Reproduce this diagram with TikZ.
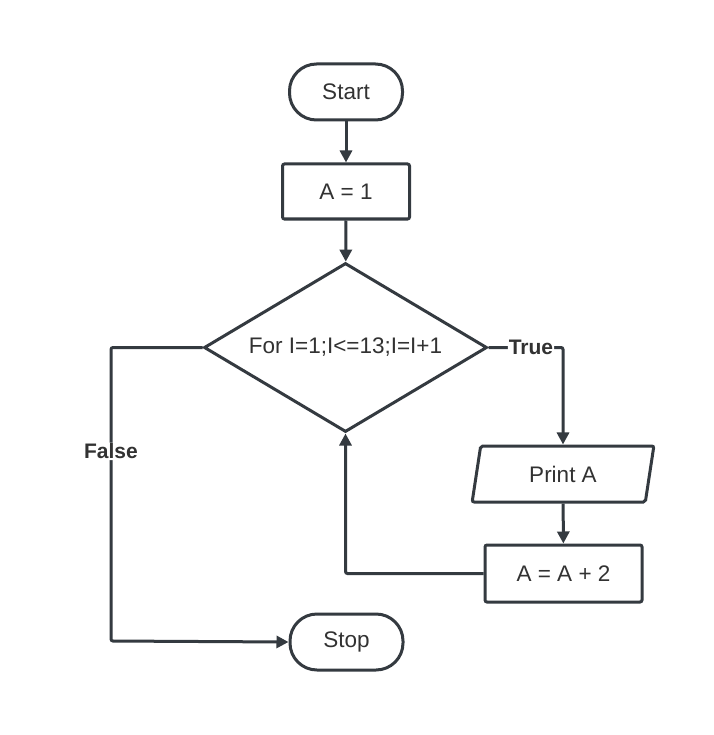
\documentclass[tikz,border=0pt]{standalone}
\usepackage{fontspec}
\setmainfont{Liberation Sans}
\usetikzlibrary{shapes.geometric,arrows.meta}
\definecolor{ink}{RGB}{52,58,64}
\definecolor{txt}{RGB}{50,50,50}
\begin{document}
\begin{tikzpicture}[x=1pt,y=-1pt,
  line width=3pt,
  every node/.style={text=txt,font=\fontsize{22.5}{27}\selectfont},
  terminal/.style={draw=ink,rectangle,rounded corners=27pt,minimum width=113pt,minimum height=56pt,inner sep=0pt},
  process/.style={draw=ink,rectangle,rounded corners=2pt,minimum width=127pt,minimum height=55pt,inner sep=0pt},
  decision/.style={draw=ink,diamond,shape aspect=1.675,minimum width=283pt,minimum height=169pt,inner sep=0pt},
  io/.style={draw=ink,trapezium,trapezium left angle=78,trapezium right angle=102,trapezium stretches=true,minimum width=182pt,minimum height=56pt,inner sep=0pt,rounded corners=2pt},
  flow/.style={draw=ink,rounded corners=2pt,-{Triangle[length=12pt,width=12pt]}},
  lbl/.style={fill=white,inner sep=1pt,font=\fontsize{21}{25}\selectfont\bfseries}]
  % page
  \fill[white] (0,0) rectangle (713,735);
  \useasboundingbox (0,0) rectangle (713,735);

  % nodes
  \node[terminal] (start) at (346,92) {Start};
  \node[process] (init) at (346,191.5) {A = 1};
  \node[decision] (loop) at (345.5,347.5) {\raisebox{3pt}{For I=1;I<=13;I=I+1}};
  \node[io] (print) at (563,474) {Print A};
  \node[process,minimum width=157pt,minimum height=57pt] (incr) at (563.5,573.5) {A = A + 2};
  \node[terminal] (stop) at (346.5,642) {Stop};

  % connectors
  \draw[flow] (start) -- (init);
  \draw[flow] (init) -- (loop);
  \draw[flow] (loop.east) -- node[lbl,pos=0.57]{True} (loop.east -| print.north) -- (print.north);
  \draw[flow] (print) -- (incr);
  \draw[flow] (incr.west) -| (loop.south);
  \draw[flow] (loop.west) -- (111,347.5) -- node[lbl,pos=0.354]{False} (111,641) -- (stop.west);
\end{tikzpicture}
\end{document}
